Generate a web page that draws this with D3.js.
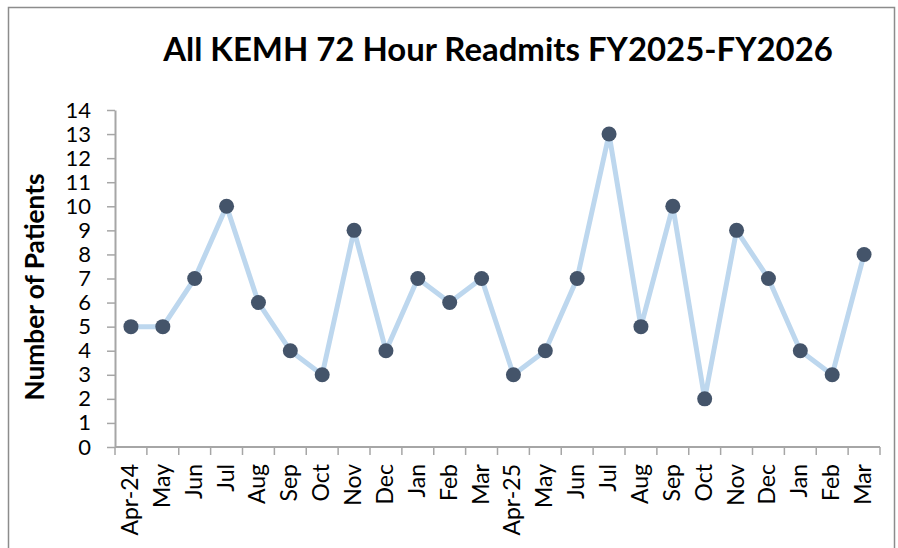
<!DOCTYPE html>
<html>
<head>
<meta charset="utf-8">
<script src="https://cdn.jsdelivr.net/npm/d3@7"></script>
<style>
  body { margin: 0; background: #fff; }
  text { font-family: Lato, "Open Sans", sans-serif; }
</style>
</head>
<body>
<div id="chart"></div>
<script>
// months shown on the x axis
const months = ['Apr-24', 'May', 'Jun', 'Jul', 'Aug', 'Sep', 'Oct', 'Nov', 'Dec', 'Jan', 'Feb', 'Mar',
  'Apr-25', 'May', 'Jun', 'Jul', 'Aug', 'Sep', 'Oct', 'Nov', 'Dec', 'Jan', 'Feb', 'Mar'];
const readmits = [5, 5, 7, 10, 6, 4, 3, 9, 4, 7, 6, 7, 3, 4, 7, 13, 5, 10, 2, 9, 7, 4, 3, 8];
const yTicks = d3.range(0, 15);

const width = 898;
const height = 548;
const margin = { top: 110, right: 18, bottom: 101, left: 115 };

const svg = d3
  .select('#chart')
  .append('svg')
  .attr('width', width)
  .attr('height', height);

// outer chart frame
svg
  .append('rect')
  .attr('x', 8.5)
  .attr('y', 7.5)
  .attr('width', 886)
  .attr('height', 560)
  .attr('fill', 'none')
  .attr('stroke', '#8c8c8c')
  .attr('stroke-width', 1.5);

const x = d3
  .scaleBand()
  .domain(d3.range(months.length))
  .range([margin.left, width - margin.right]);

const y = d3
  .scaleLinear()
  .domain([0, 14])
  .range([height - margin.bottom, margin.top]);

const axisColor = '#a6a6a6';

// y axis
const yAxis = svg
  .append('g')
  .attr('transform', `translate(${margin.left},0)`)
  .call(d3.axisLeft(y).tickValues(yTicks).tickSize(8).tickPadding(16).tickSizeOuter(0));
yAxis.select('.domain').attr('stroke', axisColor).attr('stroke-width', 2);
yAxis.selectAll('.tick line').attr('stroke', axisColor).attr('stroke-width', 1.5);
yAxis.selectAll('.tick text').attr('font-size', 22).attr('fill', '#000');

// x axis, ticks between categories
const xAxis = svg
  .append('g')
  .attr('transform', `translate(0,${y(0)})`);
xAxis
  .append('line')
  .attr('x1', margin.left)
  .attr('x2', width - margin.right)
  .attr('stroke', axisColor)
  .attr('stroke-width', 2);
xAxis
  .selectAll('line.tk')
  .data(d3.range(months.length + 1))
  .join('line')
  .attr('class', 'tk')
  .attr('x1', (i) => margin.left + i * x.step())
  .attr('x2', (i) => margin.left + i * x.step())
  .attr('y1', 0)
  .attr('y2', 8)
  .attr('stroke', axisColor)
  .attr('stroke-width', 1.5);
xAxis
  .selectAll('text')
  .data(months)
  .join('text')
  .attr('transform', (d, i) => `translate(${x(i) + x.bandwidth() / 2 + 7},17) rotate(-90)`)
  .attr('text-anchor', 'end')
  .attr('font-size', 23)
  .attr('fill', '#000')
  .text((d) => d);

// line + markers
const line = d3
  .line()
  .x((d, i) => x(i) + x.bandwidth() / 2)
  .y((d) => y(d));

svg
  .append('path')
  .datum(readmits)
  .attr('fill', 'none')
  .attr('stroke', '#bdd7ee')
  .attr('stroke-width', 5)
  .attr('stroke-linejoin', 'round')
  .attr('d', line);

svg
  .selectAll('circle')
  .data(readmits)
  .join('circle')
  .attr('cx', (d, i) => x(i) + x.bandwidth() / 2)
  .attr('cy', (d) => y(d))
  .attr('r', 7.5)
  .attr('fill', '#44546a');

// title
const title = svg
  .append('text')
  .attr('x', 498)
  .attr('y', 61)
  .attr('text-anchor', 'middle')
  .attr('font-size', 31)
  .attr('font-weight', 'bold')
  .attr('fill', '#000')
  .text('All KEMH 72 Hour Readmits FY2025-FY2026');
//fit title to the original width
const tw = title.node().getComputedTextLength();
title.attr('font-size', (31 * 670) / tw);

// y axis label
const ylab = svg
  .append('text')
  .attr('transform', 'translate(44,287) rotate(-90)')
  .attr('text-anchor', 'middle')
  .attr('font-size', 24)
  .attr('font-weight', 'bold')
  .attr('fill', '#000')
  .text('Number of Patients');
const lw = ylab.node().getComputedTextLength();
ylab.attr('font-size', (24 * 227) / lw);
</script>
</body>
</html>
